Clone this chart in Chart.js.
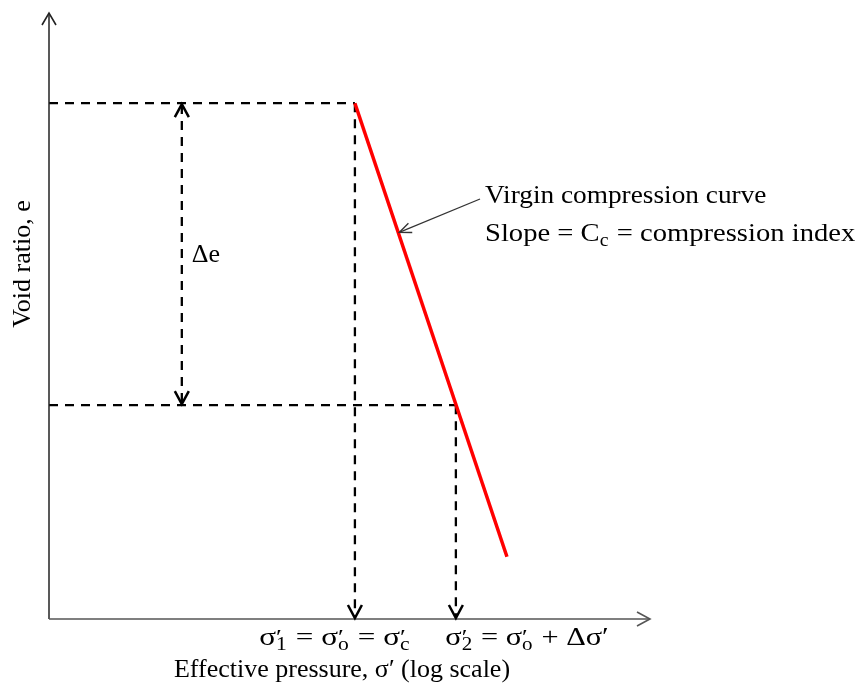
<!DOCTYPE html>
<html><head><meta charset="utf-8">
<script src="https://cdn.jsdelivr.net/npm/chart.js@4.4.1/dist/chart.umd.min.js"></script>
<style>html,body{margin:0;padding:0;background:#fff}#wrap{width:865px;height:683px}</style>
</head><body><div id="wrap"><canvas id="c" width="865" height="683"></canvas></div>
<script>
// Schematic values (log σ' on x, e on y), in chart units
const curveX = [50.9, 76.2];
const curveY = [85.4, 10.3];
const sigmaX = [50.9, 67.7];      // σ'1 , σ'2
const voidY = [85.4, 35.4];       // e at σ'1 , e at σ'2
const deltaEX = [22.1];
// rich labels: [base, superscript, subscript]
const label1 = [["σ","′","1"],[" = "],["σ","′","o"],[" = "],["σ","′","c"]];
const label2 = [["σ","′","2"],[" = "],["σ","′","o"],[" + Δσ′"]];
const xTitle = "Effective pressure, σ′ (log scale)";
const yTitle = "Void ratio, e";
const noteLine1 = "Virgin compression curve";
const noteLine2 = [["Slope = "],["C","","c"],[" = compression index"]];
const deltaLabel = "Δe";

const dash = [9, 7];
const DW = 2.3;
const datasets = [
  {data: curveX.map((x,i)=>({x, y: curveY[i]})), borderColor:'#ff0000', borderWidth:3.5, showLine:true, pointRadius:0},
  {data: [{x:0,y:voidY[0]},{x:sigmaX[0],y:voidY[0]}], borderColor:'#000', borderWidth:DW, borderDash:dash, showLine:true, pointRadius:0},
  {data: [{x:0,y:voidY[1]},{x:sigmaX[1],y:voidY[1]}], borderColor:'#000', borderWidth:DW, borderDash:dash, showLine:true, pointRadius:0},
  {data: [{x:sigmaX[0],y:voidY[0]},{x:sigmaX[0],y:0.4}], borderColor:'#000', borderWidth:DW, borderDash:dash, showLine:true, pointRadius:0},
  {data: [{x:sigmaX[1],y:voidY[1]},{x:sigmaX[1],y:0.4}], borderColor:'#000', borderWidth:DW, borderDash:dash, showLine:true, pointRadius:0},
  {data: [{x:deltaEX[0],y:voidY[0]-0.3},{x:deltaEX[0],y:voidY[1]+0.3}], borderColor:'#000', borderWidth:DW, borderDash:dash, showLine:true, pointRadius:0}
];

const FONT = '"Liberation Serif", "Times New Roman", serif';

function vArrow(ctx, x, y, dir, w, h, lw, color){
  ctx.save();
  ctx.strokeStyle = color; ctx.lineWidth = lw; ctx.setLineDash([]);
  ctx.lineJoin = 'miter';
  ctx.beginPath();
  ctx.moveTo(x - w, y - dir*h);
  ctx.lineTo(x, y);
  ctx.lineTo(x + w, y - dir*h);
  ctx.stroke();
  ctx.restore();
}

function segWidth(ctx, s, size){
  ctx.font = size + 'px ' + FONT;
  const bw = ctx.measureText(s[0]).width;
  let ew = 0;
  if (s[1] || s[2]){
    ctx.font = Math.round(size*0.85) + 'px ' + FONT;
    const a = ctx.measureText(s[1]||'').width;
    ctx.font = Math.round(size*0.7) + 'px ' + FONT;
    const b = ctx.measureText(s[2]||'').width;
    ew = Math.max(a, b) + 1;
  }
  return bw + ew;
}
function drawRich(ctx, segs, x, y, size, align, sx){
  let w = 0; for (const s of segs) w += segWidth(ctx, s, size);
  w *= sx;
  const x0 = align === 'center' ? x - w/2 : x;
  ctx.save();
  ctx.translate(x0, y); ctx.scale(sx, 1);
  ctx.textAlign = 'left';
  let cx = 0;
  for (const s of segs){
    ctx.font = size + 'px ' + FONT;
    ctx.fillText(s[0], cx, 0);
    const bw = ctx.measureText(s[0]).width;
    if (s[1]){ ctx.font = Math.round(size*0.85) + 'px ' + FONT; ctx.fillText(s[1], cx + bw, -size*0.04); }
    if (s[2]){ ctx.font = Math.round(size*0.7) + 'px ' + FONT; ctx.fillText(s[2], cx + bw, size*0.2); }
    cx += segWidth(ctx, s, size);
  }
  ctx.restore();
}
function drawScaled(ctx, text, x, y, size, align, sx){
  ctx.save();
  ctx.font = size + 'px ' + FONT;
  const w = ctx.measureText(text).width * sx;
  const x0 = align === 'center' ? x - w/2 : x;
  ctx.translate(x0, y); ctx.scale(sx, 1);
  ctx.textAlign = 'left';
  ctx.fillText(text, 0, 0);
  ctx.restore();
}

const overlay = {
  id:'overlay',
  afterDatasetsDraw(chart){
    const ctx = chart.ctx, xs = chart.scales.x, ys = chart.scales.y;
    const px = v=>xs.getPixelForValue(v), py = v=>ys.getPixelForValue(v);
    ctx.save();
    // axes
    ctx.strokeStyle = '#222'; ctx.lineWidth = 1.5;
    ctx.beginPath(); ctx.moveTo(px(0), py(0)); ctx.lineTo(px(0), py(100)); ctx.stroke();
    ctx.strokeStyle = '#555';
    ctx.beginPath(); ctx.moveTo(px(0), py(0)); ctx.lineTo(px(100), py(0)); ctx.stroke();
    vArrow(ctx, px(0), py(100)-2, -1, 7, 12, 1.6, '#222');
    ctx.save(); ctx.translate(px(100), py(0)); ctx.rotate(-Math.PI/2);
    vArrow(ctx, 0, 0, 1, 7, 13, 1.6, '#555'); ctx.restore();
    // dashed arrows
    vArrow(ctx, px(sigmaX[0]), py(0)-1, 1, 7, 13, 2.5, '#000');
    vArrow(ctx, px(sigmaX[1]), py(0)-1, 1, 7, 13, 2.5, '#000');
    vArrow(ctx, px(deltaEX[0]), py(voidY[0])+1, -1, 7, 13, 2.5, '#000');
    vArrow(ctx, px(deltaEX[0]), py(voidY[1])-1, 1, 7, 13, 2.5, '#000');
    // leader arrow to curve
    const f = 0.285;
    const tx = curveX[0] + (curveX[1]-curveX[0])*f;
    const ty = curveY[0] + (curveY[1]-curveY[0])*f;
    const x1 = px(tx)+1, y1 = py(ty), x0 = 480, y0 = 199;
    ctx.strokeStyle = '#333'; ctx.lineWidth = 1.3;
    ctx.beginPath(); ctx.moveTo(x0,y0); ctx.lineTo(x1,y1); ctx.stroke();
    const ang = Math.atan2(y1-y0, x1-x0);
    ctx.save(); ctx.translate(x1,y1); ctx.rotate(ang - Math.PI/2);
    vArrow(ctx, 0, 0, 1, 5, 12, 1.3, '#333'); ctx.restore();
    // texts
    ctx.fillStyle = '#000';
    ctx.textBaseline = 'alphabetic';
    drawScaled(ctx, noteLine1, 485, 203, 26, 'left', 1.05);
    drawRich(ctx, noteLine2, 485, 241, 26, 'left', 1.1);
    ctx.font = '26px ' + FONT; ctx.textAlign = 'left';
    ctx.fillText(deltaLabel, px(deltaEX[0])+10, 262);
    drawRich(ctx, label1, 335, 645, 26, 'center', 1.2);
    drawRich(ctx, label2, 527, 645, 26, 'center', 1.17);
    drawScaled(ctx, xTitle, 342, 677, 26, 'center', 1.0);
    ctx.save(); ctx.translate(30, 264); ctx.rotate(-Math.PI/2);
    ctx.font = '26px ' + FONT; ctx.textAlign = 'center';
    ctx.fillText(yTitle, 0, 0); ctx.restore();
    ctx.restore();
  }
};

new Chart(document.getElementById('c'), {
  type:'scatter',
  data:{datasets},
  options:{
    responsive:false, animation:false,
    layout:{padding:{left:49, right:215, top:15, bottom:64}},
    plugins:{legend:{display:false}, tooltip:{enabled:false}},
    scales:{
      x:{type:'linear', min:0, max:100, display:false},
      y:{type:'linear', min:0, max:100, display:false}
    }
  },
  plugins:[overlay]
});
</script></body></html>
